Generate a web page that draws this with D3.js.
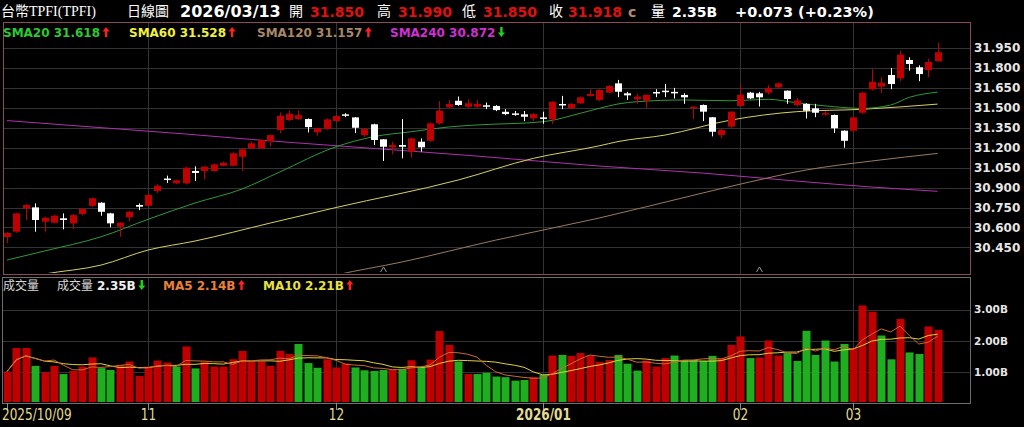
<!DOCTYPE html>
<html><head><meta charset="utf-8">
<script src="https://cdn.jsdelivr.net/npm/d3@7"></script>
<style>html,body{margin:0;padding:0;background:#000;overflow:hidden}</style>
</head><body><svg id="c" width="1024" height="427"></svg>
<script>
// ---------- DATA ----------
const opens  = [30.528,30.568,30.744,30.751,30.643,30.636,30.669,30.631,30.701,30.763,
  30.786,30.706,30.606,30.676,30.769,30.763,30.874,30.968,30.932,30.932,
  31.025,31.025,31.025,31.064,31.064,31.132,31.195,31.195,31.250,31.333,
  31.408,31.416,31.416,31.316,31.340,31.401,31.451,31.428,31.295,31.376,
  31.263,31.203,31.220,31.170,31.245,31.252,31.383,31.504,31.553,31.508,
  31.508,31.519,31.514,31.470,31.458,31.451,31.421,31.428,31.413,31.529,
  31.496,31.534,31.589,31.559,31.614,31.684,31.609,31.564,31.554,31.619,
  31.629,31.620,31.597,31.496,31.521,31.429,31.295,31.358,31.514,31.614,
  31.609,31.614,31.654,31.629,31.521,31.529,31.496,31.455,31.446,31.328,
  31.328,31.463,31.639,31.659,31.747,31.722,31.860,31.805,31.784,31.850];
const highs  = [30.565,30.710,30.775,30.781,30.680,30.695,30.706,30.700,30.745,30.825,
  30.790,30.710,30.640,30.725,30.781,30.850,30.925,30.990,30.960,31.055,
  31.060,31.062,31.080,31.095,31.165,31.195,31.245,31.262,31.300,31.465,
  31.480,31.480,31.420,31.350,31.420,31.445,31.460,31.430,31.345,31.380,
  31.265,31.245,31.415,31.275,31.270,31.390,31.550,31.560,31.585,31.565,
  31.560,31.540,31.520,31.490,31.476,31.476,31.460,31.470,31.550,31.590,
  31.535,31.585,31.640,31.640,31.670,31.710,31.620,31.605,31.600,31.640,
  31.680,31.650,31.610,31.510,31.525,31.430,31.340,31.475,31.670,31.620,
  31.620,31.670,31.690,31.630,31.575,31.535,31.530,31.475,31.450,31.330,
  31.435,31.620,31.790,31.730,31.800,31.930,31.880,31.820,31.870,31.990];
const lows   = [30.483,30.560,30.656,30.568,30.568,30.630,30.586,30.586,30.690,30.755,
  30.688,30.601,30.530,30.646,30.730,30.755,30.860,30.935,30.925,30.925,
  30.950,30.962,31.020,31.060,31.060,31.025,31.190,31.190,31.210,31.310,
  31.400,31.410,31.315,31.290,31.335,31.390,31.430,31.310,31.280,31.220,
  31.100,31.150,31.120,31.125,31.170,31.245,31.375,31.500,31.515,31.500,
  31.500,31.490,31.475,31.445,31.440,31.400,31.400,31.380,31.380,31.490,
  31.490,31.530,31.585,31.550,31.610,31.580,31.560,31.530,31.500,31.580,
  31.580,31.570,31.530,31.415,31.400,31.285,31.270,31.350,31.510,31.565,
  31.510,31.600,31.650,31.530,31.510,31.420,31.430,31.440,31.310,31.200,
  31.320,31.455,31.630,31.610,31.640,31.700,31.780,31.700,31.730,31.850];
const closes = [30.558,30.706,30.769,30.656,30.673,30.688,30.656,30.693,30.739,30.819,
  30.718,30.631,30.636,30.718,30.756,30.844,30.914,30.962,30.955,31.050,
  31.010,31.057,31.075,31.087,31.158,31.188,31.233,31.258,31.295,31.440,
  31.455,31.445,31.355,31.346,31.413,31.438,31.443,31.350,31.340,31.258,
  31.207,31.220,31.207,31.270,31.203,31.383,31.478,31.529,31.521,31.534,
  31.529,31.508,31.483,31.453,31.450,31.433,31.453,31.418,31.546,31.521,
  31.529,31.579,31.604,31.634,31.664,31.621,31.594,31.584,31.597,31.609,
  31.619,31.609,31.579,31.508,31.471,31.320,31.333,31.471,31.597,31.571,
  31.579,31.647,31.684,31.566,31.556,31.478,31.463,31.460,31.346,31.252,
  31.428,31.614,31.696,31.689,31.679,31.900,31.830,31.754,31.845,31.918];
const volumes = [1.02,1.77,1.77,1.20,1.00,1.20,0.94,1.04,1.18,1.47,
  1.13,1.07,1.23,1.34,0.88,1.18,1.37,1.31,1.18,1.82,
  1.12,1.34,1.18,1.18,1.41,1.68,1.34,1.34,1.20,1.68,
  1.58,1.90,1.29,1.14,1.41,1.15,1.28,1.15,1.06,1.04,
  1.07,1.09,1.11,1.38,1.18,1.40,2.31,1.87,1.34,0.94,
  0.94,0.98,0.86,0.84,0.73,0.75,0.84,0.91,1.53,1.55,
  1.52,1.61,1.53,1.33,1.39,1.55,1.27,1.05,1.37,1.18,
  1.45,1.53,1.39,1.39,1.36,1.52,1.45,1.87,2.14,1.45,
  1.47,2.01,1.53,1.61,1.36,2.32,1.55,2.01,1.34,1.90,
  1.77,3.13,2.93,2.17,1.41,2.70,1.63,1.58,2.46,2.35];

// moving averages of price: [candle index], [value]
const sma20Idx = [0,4,10,15,20,25,29,35,39,43,47,50,57,61,63,65,67,72,77,81,84,88,91,94,96,99];
const sma20Val = [30.355,30.423,30.530,30.661,30.784,30.889,31.017,31.207,31.283,31.320,31.356,31.371,31.395,31.459,31.496,31.529,31.546,31.559,31.553,31.564,31.538,31.508,31.496,31.521,31.579,31.618];
const sma60Idx = [0,4,10,15,20,28,35,48,56,63,65,70,77,84,91,99];
const sma60Val = [30.197,30.250,30.317,30.430,30.498,30.633,30.750,30.957,31.120,31.214,31.246,31.295,31.408,31.471,31.489,31.528];
const sma120Idx = [30,35,42,52,63,74,79,85,92,99];
const sma120Val = [30.152,30.242,30.340,30.505,30.671,30.859,30.942,31.032,31.100,31.157];
const sma240Idx = [0,12,19,26,35,50,63,74,84,92,99];
const sma240Val = [31.404,31.340,31.303,31.262,31.215,31.137,31.062,31.009,30.949,30.904,30.872];

const priceTicks = [30.45,30.60,30.75,30.90,31.05,31.20,31.35,31.50,31.65,31.80,31.95];
const volTicks = [1,2,3];
const monthTickIdx = [0,15,35,57,78,90];
const monthTickLabels = ["2025/10/09","11","12","2026/01","02","03"];
const titleName = "台幣TPFI(TPFI)";
const titleType = "日線圖";
const titleDate = "2026/03/13";

// ---------- LAYOUT ----------
const svg = d3.select("#c");
svg.append("rect").attr("width",1024).attr("height",427).attr("fill","#000");
const L = 3, R = 970, mTop = 22, mBot = 274, vTop = 277, vBot = 403;
const n = closes.length;
const x = d3.scaleLinear().domain([0, n-1]).range([7, 7 + 9.4*(n-1)]);
const y = d3.scaleLinear().domain([30.45, 31.95]).range([247.4, 48]);
const yv = d3.scaleLinear().domain([0, 3]).range([403.5, 309.5]);
const grid = "#333333";
const RED = "#c00000", GREEN = "#1fae1f";

const defs = svg.append("defs");
defs.append("clipPath").attr("id","mclip").append("rect")
  .attr("x",L+1).attr("y",mTop+1).attr("width",R-L-2).attr("height",mBot-mTop-2);
defs.append("clipPath").attr("id","vclip").append("rect")
  .attr("x",L+1).attr("y",vTop+1).attr("width",R-L-2).attr("height",vBot-vTop-2);

// gridlines main
const gm = svg.append("g");
priceTicks.forEach(t => gm.append("line").attr("x1",L).attr("x2",R)
  .attr("y1",Math.round(y(t))+0.5).attr("y2",Math.round(y(t))+0.5).attr("stroke",grid));
monthTickIdx.slice(1).forEach(i => gm.append("line")
  .attr("x1",Math.round(x(i))+0.5).attr("x2",Math.round(x(i))+0.5)
  .attr("y1",mTop).attr("y2",mBot).attr("stroke",grid));
// gridlines volume
volTicks.forEach(t => gm.append("line").attr("x1",L).attr("x2",R)
  .attr("y1",Math.round(yv(t))+0.5).attr("y2",Math.round(yv(t))+0.5).attr("stroke",grid));
monthTickIdx.slice(1).forEach(i => gm.append("line")
  .attr("x1",Math.round(x(i))+0.5).attr("x2",Math.round(x(i))+0.5)
  .attr("y1",vTop).attr("y2",vBot).attr("stroke",grid));

// moving average lines
const mg = svg.append("g").attr("clip-path","url(#mclip)");
function maLine(idx, vals, color){
  const pts = idx.map((d,k)=>[x(d), y(vals[k])]);
  mg.append("path").attr("d", d3.line().curve(d3.curveMonotoneX)(pts))
    .attr("fill","none").attr("stroke",color).attr("stroke-width",1);
}
maLine(sma240Idx, sma240Val, "#b030b0");
maLine(sma120Idx, sma120Val, "#9c7a5e");
maLine(sma60Idx, sma60Val, "#d8d060");
maLine(sma20Idx, sma20Val, "#2e9a3a");

// candles
const cg = svg.append("g").attr("clip-path","url(#mclip)");
d3.range(n).forEach(i => {
  const up = closes[i] >= opens[i];
  const col = up ? RED : "#ffffff";
  const cx = Math.round(x(i));
  cg.append("line").attr("x1",cx+0.5).attr("x2",cx+0.5)
    .attr("y1",y(highs[i])).attr("y2",y(lows[i])).attr("stroke",col);
  const top = y(Math.max(opens[i],closes[i])), bot = y(Math.min(opens[i],closes[i]));
  cg.append("rect").attr("x",cx-3).attr("y",top).attr("width",7)
    .attr("height",Math.max(1.5, bot-top)).attr("fill",col);
});

// deduction markers (SMA60 / SMA20 start points)
[n-60, n-20].forEach(i => {
  const cx = Math.round(x(i))+0.5;
  svg.append("path").attr("d",`M${cx-3},${mBot-2}L${cx},${mBot-7}L${cx+3},${mBot-2}`)
    .attr("fill","none").attr("stroke","#9a9a9a");
});

// volume bars
const vg = svg.append("g").attr("clip-path","url(#vclip)");
d3.range(n).forEach(i => {
  const up = i === 0 ? closes[i] >= opens[i] : closes[i] >= closes[i-1];
  const cx = Math.round(x(i));
  vg.append("rect").attr("x",cx-3.5).attr("y",yv(volumes[i]))
    .attr("width",8).attr("height",yv(0)-yv(volumes[i])).attr("fill", up ? RED : GREEN);
});
function vma(k){ return volumes.map((v,i)=> d3.mean(volumes.slice(Math.max(0,i-k+1), i+1))); }
const ma5 = vma(5), ma10 = vma(10);
vg.append("path").attr("d", d3.line()(ma10.map((v,i)=>[x(i), yv(v)])))
  .attr("fill","none").attr("stroke","#e0d040").attr("stroke-width",1);
vg.append("path").attr("d", d3.line()(ma5.map((v,i)=>[x(i), yv(v)])))
  .attr("fill","none").attr("stroke","#c86a34").attr("stroke-width",1);

// panel borders
svg.append("rect").attr("x",L+0.5).attr("y",mTop+0.5).attr("width",R-L).attr("height",mBot-mTop)
  .attr("fill","none").attr("stroke","#8a4a5c");
svg.append("rect").attr("x",L-0.5).attr("y",vTop+0.5).attr("width",R-L+1).attr("height",vBot-vTop)
  .attr("fill","none").attr("stroke","#6e6e6e");

// price axis labels
const numFont = "'DejaVu Sans', Verdana, sans-serif";
svg.append("g").selectAll("text").data(priceTicks).join("text")
  .attr("x",974).attr("y",d=>y(d)).attr("dy","0.36em")
  .attr("fill","#e6e6e6").attr("font-family",numFont).attr("font-weight","bold")
  .attr("font-size",12).text(d=>d.toFixed(3));
svg.append("g").selectAll("text").data(volTicks).join("text")
  .attr("x",974).attr("y",d=>yv(d)).attr("dy","0.36em")
  .attr("fill","#e6e6e6").attr("font-family",numFont).attr("font-weight","bold")
  .attr("font-size",10.5).text(d=>d.toFixed(2)+"B");

// x axis ticks and labels
monthTickIdx.forEach((i,k) => {
  const cx = Math.round(x(i))+0.5;
  svg.append("line").attr("x1",cx).attr("x2",cx).attr("y1",vBot).attr("y2",vBot+7).attr("stroke","#8a8a8a");
  svg.append("text").attr("transform",`translate(${k===0 ? 2 : cx},420) scale(0.84,1)`)
    .attr("text-anchor", k===0 ? "start" : "middle")
    .attr("fill","#e2dc96").attr("font-family","'DejaVu Sans Condensed','DejaVu Sans',sans-serif")
    .attr("font-size",16).attr("font-weight", monthTickLabels[k].length===7 ? "bold" : "normal")
    .text(monthTickLabels[k]);
});

// arrows
function arrow(xc, ytop, up, color){
  const p = up
    ? `M${xc},${ytop}L${xc+3.5},${ytop+4.5}L${xc+1.2},${ytop+4.5}L${xc+1.2},${ytop+10}L${xc-1.2},${ytop+10}L${xc-1.2},${ytop+4.5}L${xc-3.5},${ytop+4.5}Z`
    : `M${xc},${ytop+10}L${xc+3.5},${ytop+5.5}L${xc+1.2},${ytop+5.5}L${xc+1.2},${ytop}L${xc-1.2},${ytop}L${xc-1.2},${ytop+5.5}L${xc-3.5},${ytop+5.5}Z`;
  svg.append("path").attr("d",p).attr("fill",color);
}
function txt(xp, yp, s, color, size, bold, fam){
  return svg.append("text").attr("x",xp).attr("y",yp).attr("fill",color)
    .attr("font-size",size).attr("font-weight",bold?"bold":"normal")
    .attr("font-family",fam||numFont).text(s);
}
const cjk = "'Liberation Serif','Noto Sans CJK TC',serif";
const cjkS = "'Noto Sans CJK TC',sans-serif";

// header
const last = n-1;
const chg = closes[last]-closes[last-1];
txt(1,16,titleName,"#ffffff",14,false,cjk);
txt(127,16,titleType,"#ffffff",14,false,cjkS);
txt(180,17,titleDate,"#ffffff",16,true);
txt(289,16,"開","#ffffff",14,false,cjkS);
txt(310,17,opens[last].toFixed(3),"#e01010",14,true);
txt(377,16,"高","#ffffff",14,false,cjkS);
txt(398,17,highs[last].toFixed(3),"#e01010",14,true);
txt(462,16,"低","#ffffff",14,false,cjkS);
txt(483,17,lows[last].toFixed(3),"#e01010",14,true);
txt(549,16,"收","#ffffff",14,false,cjkS);
txt(568,17,closes[last].toFixed(3),"#e01010",14,true);
txt(628,17,"c","#b08a6a",14,true);
txt(651,16,"量","#ffffff",14,false,cjkS);
txt(672,17,volumes[last].toFixed(2)+"B","#ffffff",14,true);
txt(735,17,(chg>=0?"+":"")+chg.toFixed(3)+" ("+(chg>=0?"+":"")+(chg/closes[last-1]*100).toFixed(2)+"%)","#ffffff",14.5,true);

// SMA legend
const legends = [
  {x:3, name:"SMA20", vals:sma20Val, color:"#2ec832"},
  {x:129, name:"SMA60", vals:sma60Val, color:"#f0f040"},
  {x:257, name:"SMA120", vals:sma120Val, color:"#a88868"},
  {x:390, name:"SMA240", vals:sma240Val, color:"#d030d0"}
];
legends.forEach(l => {
  const v = l.vals[l.vals.length-1], pv = l.vals[l.vals.length-2];
  const t = txt(l.x,37,l.name+" "+v.toFixed(3),l.color,12,true);
  const w = t.node().getComputedTextLength();
  arrow(l.x+w+6, 27, v>=pv, v>=pv ? "#ff2020" : "#20d020");
});

// volume legend
txt(3,290,"成交量","#d8d8d8",12,false,cjkS);
txt(57,290,"成交量","#d8d8d8",12,false,cjkS);
{
  const t = txt(97,290,volumes[last].toFixed(2)+"B","#f0f0f0",12,true);
  const up = volumes[last]>=volumes[last-1];
  arrow(97+t.node().getComputedTextLength()+6,280,up,up?"#ff2020":"#20d020");
  const t2 = txt(163,290,"MA5 "+ma5[last].toFixed(2)+"B","#e8803a",12,true);
  const up2 = ma5[last]>=ma5[last-1];
  arrow(163+t2.node().getComputedTextLength()+6,280,up2,up2?"#ff2020":"#20d020");
  const t3 = txt(263,290,"MA10 "+ma10[last].toFixed(2)+"B","#e8e040",12,true);
  const up3 = ma10[last]>=ma10[last-1];
  arrow(263+t3.node().getComputedTextLength()+6,280,up3,up3?"#ff2020":"#20d020");
}
</script></body></html>
